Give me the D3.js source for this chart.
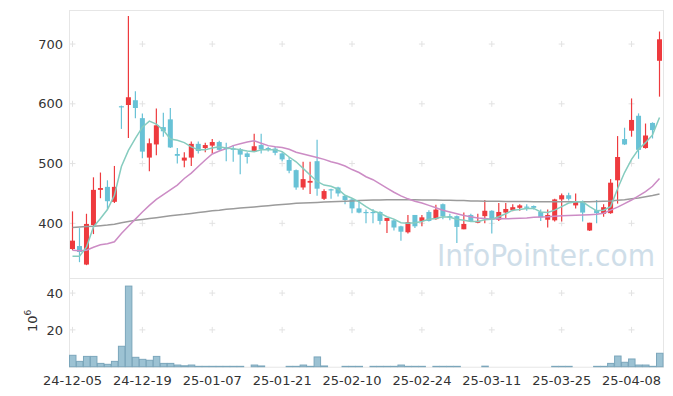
<!DOCTYPE html>
<html>
<head>
<meta charset="utf-8">
<script src="https://cdn.jsdelivr.net/npm/d3@7"></script>
<style>
    body { margin: 0; background: #fff; }
    text { font-family: "DejaVu Sans", sans-serif; }
</style>
</head>
<body>
<div id="chart"></div>
<script>
/*--------------------------------------*
 *---------------- Data ----------------*
 *--------------------------------------*/

const dates = [
    '24-12-05','24-12-06','24-12-09','24-12-10','24-12-11','24-12-12','24-12-13','24-12-16','24-12-17','24-12-18',
    '24-12-19','24-12-20','24-12-23','24-12-24','24-12-26','24-12-27','24-12-30','25-01-02','25-01-03','25-01-06',
    '25-01-07','25-01-08','25-01-09','25-01-10','25-01-13','25-01-14','25-01-15','25-01-16','25-01-17','25-01-20',
    '25-01-21','25-01-22','25-01-23','25-01-24','25-01-31','25-02-03','25-02-04','25-02-05','25-02-06','25-02-07',
    '25-02-10','25-02-11','25-02-12','25-02-13','25-02-14','25-02-17','25-02-18','25-02-19','25-02-20','25-02-21',
    '25-02-24','25-02-25','25-02-26','25-02-27','25-02-28','25-03-04','25-03-05','25-03-06','25-03-07','25-03-10',
    '25-03-11','25-03-12','25-03-13','25-03-14','25-03-17','25-03-18','25-03-19','25-03-20','25-03-21','25-03-24',
    '25-03-25','25-03-26','25-03-27','25-03-28','25-03-31','25-04-01','25-04-02','25-04-03','25-04-04','25-04-07',
    '25-04-08','25-04-09','25-04-10','25-04-11','25-04-14'
];

const openPrices = [
    357,362,331,397,456,461,436,596,598,606, 576,510,532,561,574,516,505,510,533,526,
    530,536,527,525,524,517,520,531,526,525, 517,506,489,460,468,504,441,457,460,446,
    440,425,419,419,419,404,405,395,385,414, 404,419,407,432,412,412,390,414,401,412,
    421,406,418,422,426,428,429,419,406,405, 440,447,430,437,388,422,416,417,472,541,
    555,580,526,568,672
];
const highPrices = [
    420,392,416,477,485,472,496,597,747,621, 584,542,592,585,593,526,519,537,537,535,
    541,538,535,531,526,519,550,550,528,528, 519,511,490,503,503,540,457,458,461,447,
    441,438,423,424,420,409,407,396,414,414, 414,422,431,433,416,413,418,416,416,439,
    422,434,434,432,432,432,430,423,423,441, 450,451,450,438,401,439,432,474,546,560,
    609,584,567,569,721
];
const lowPrices = [
    355,335,330,382,442,424,434,558,543,576, 509,487,514,545,526,500,494,496,517,519,
    517,522,504,503,482,500,520,517,520,514, 504,484,456,456,449,446,439,441,445,432,
    417,417,400,400,398,384,388,371,383,392, 395,403,406,407,405,367,390,403,400,400,
    383,404,408,420,421,421,423,404,393,403, 403,438,425,403,387,400,411,416,433,531,
    545,508,525,542,612
];
const closePrices = [
    371,352,399,456,459,437,461,595,611,593, 520,534,564,554,527,513,510,533,521,531,
    536,523,524,524,515,511,529,524,525,518, 507,488,460,474,471,458,454,456,450,439,
    425,418,418,418,404,409,393,386,402,395, 410,404,423,412,410,394,399,404,404,421,
    407,419,424,427,430,426,426,410,414,440, 447,441,437,418,401,417,427,468,511,532,
    573,523,547,556,708
];

// Volume in millions of shares
const volumes = [
    6.2,2.9,5.6,5.6,1.8,1.3,2.9,11.1,43.8,5.1, 4.0,3.5,5.6,1.8,1.8,0.9,0.5,0.9,0.2,0.2,
    0.2,0.2,0.2,0.2,0.2,0,0.9,0.4,0,0, 0,0.2,0.2,0.9,0.2,5.3,0.4,0,0,0.2,
    0.2,0.2,0,0.2,0.2,0.2,0.2,0.9,0.2,0.2, 0.2,0,0.2,0.2,0.2,0.2,0,0,0,0.3,
    0,0,0,0,0,0,0,0,0,0.2, 0.2,0.2,0,0,0,0.2,0.2,1.8,5.8,2.4,
    4.2,0.9,0.9,0.2,7.3
];

// Moving averages
const maShort = [
    345,345,360,394,408,423,447,495,522,542, 561,571,566,556,541,539,535,528,523,523,
    526,528,526,525,523,521,520,523,523,523, 520,511,503,492,481,470,464,462,457,447,
    442,436,428,421,417,411,407,401,400,401, 403,407,408,411,410,407,405,403,403,406,
    407,411,416,422,423,425,425,419,418,422, 428,434,436,436,428,421,422,428,458,485,
    507,524,535,548,577
];
const maMid = [
    355,354,355,360,364,366,369,383,395,407, 419,430,440,448,456,464,475,484,495,506,
    516,521,525,530,533,536,538,534,530,528, 527,524,519,516,513,510,507,503,500,496,
    490,485,478,473,466,459,452,446,441,437, 434,430,426,422,419,416,413,411,409,408,
    407,408,407.5,408,408.5,409,410,410.5,411,412, 412.5,413,413.5,414,414.5,415,417,422,427,433,
    439,446,453,462,475
];
const maLong = [
    393,394,394.5,395,396,397,398.5,401,403,405, 406.5,408,409.5,411,412.5,414,415,416.5,418,419.5,
    421,422,423.5,424.5,425.5,426.5,427.5,428.5,429.5,430.5, 431.5,432.5,433.5,434,434.5,435,435.5,436,436.5,437,
    437.5,438,438.5,439,439,439.5,439.5,439.5,439.5,439.5, 439,439,439,438.5,438.5,438,438,437.5,437.5,437,
    437,437,436.5,436.5,436.5,436.5,436,436,436,436, 436,436,436,436,436,436.5,437,437.5,438.5,439.5,
    441,442.5,444.5,446.5,449
];

const dateTicks = ['24-12-05','24-12-19','25-01-07','25-01-21','25-02-10','25-02-24','25-03-11','25-03-25','25-04-08'];
const priceTicks = [400, 500, 600, 700];
const volumeTicks = [20, 40];

/*--------------------------------------*
 *------ Pre-plot initialization -------*
 *--------------------------------------*/

function initDimensions() {
    const margin = { top: 10, left: 69 },
        width = 594,
        priceHeight = 268,
        volumeHeight = 88.7;
    return [ margin, width, priceHeight, volumeHeight ];
}

function initSVG() {
    return d3.select('#chart')
        .append('svg')
        .attr('width', 673)
        .attr('height', 396);
}

function initScales(width, priceHeight, volumeHeight) {
    const xScale = d3.scaleBand()
        .domain(dates)
        .range([0, width])
        .padding(0);
    const yPrice = d3.scaleLinear()
        .domain([308.5, 757])
        .range([priceHeight, 0]);
    const yVolume = d3.scaleLinear()
        .domain([0, 48.2])
        .range([volumeHeight, 0]);
    return [ xScale, yPrice, yVolume ];
}

// little "+" marks where the ticks cross
function drawCrosses(g, xScale, yScale, values) {
    const pts = [];
    dateTicks.forEach(d => values.forEach(v => pts.push([xScale(d) + xScale.bandwidth() / 2, yScale(v)])));
    g.selectAll('.cross')
        .data(pts)
        .join('path')
        .attr('d', p => `M${p[0] - 3},${p[1]}H${p[0] + 3}M${p[0]},${p[1] - 3}V${p[1] + 3}`)
        .attr('stroke', '#e2e2e2')
        .attr('stroke-width', 1);
}

/*--------------------------------------*
 *-------- Plot initialization ---------*
 *--------------------------------------*/

function drawChart() {
    const [ margin, width, priceHeight, volumeHeight ] = initDimensions();
    const svg = initSVG();
    const [ xScale, yPrice, yVolume ] = initScales(width, priceHeight, volumeHeight);
    const cx = d => xScale(d) + xScale.bandwidth() / 2;

    const price = svg.append('g')
        .attr('transform', 'translate(' + margin.left + ',' + margin.top + ')');
    const volume = svg.append('g')
        .attr('transform', 'translate(' + margin.left + ',' + (margin.top + priceHeight) + ')');

    // Watermark
    price.append('text')
        .attr('x', 368)
        .attr('y', 256)
        .attr('textLength', 218)
        .attr('lengthAdjust', 'spacingAndGlyphs')
        .attr('font-size', 31)
        .attr('fill', '#cfdee9')
        .text('InfoPointer.com');

    drawCrosses(price, xScale, yPrice, priceTicks);
    drawCrosses(volume, xScale, yVolume, volumeTicks);

    // Panel borders
    [[price, priceHeight], [volume, volumeHeight]].forEach(([g, h]) => {
        g.append('rect')
            .attr('x', 0.5).attr('y', 0.5)
            .attr('width', width).attr('height', h)
            .attr('fill', 'none')
            .attr('stroke', '#e6e6e6');
    });

    // Candles
    const candles = dates.map((d, i) => ({
        date: d, open: openPrices[i], high: highPrices[i], low: lowPrices[i], close: closePrices[i]
    }));
    const colorOf = d => d.close >= d.open ? '#ee3a3e' : '#68c2d6';

    price.selectAll('.wick')
        .data(candles)
        .join('line')
        .attr('x1', d => cx(d.date)).attr('x2', d => cx(d.date))
        .attr('y1', d => yPrice(d.high)).attr('y2', d => yPrice(d.low))
        .attr('stroke', colorOf)
        .attr('stroke-width', 1.2);

    price.selectAll('.body')
        .data(candles)
        .join('rect')
        .attr('x', d => cx(d.date) - 2.5)
        .attr('width', 5)
        .attr('y', d => yPrice(Math.max(d.open, d.close)))
        .attr('height', d => Math.max(1.2, Math.abs(yPrice(d.open) - yPrice(d.close))))
        .attr('fill', colorOf);

    // Moving averages
    const lineGen = d3.line()
        .x((v, i) => cx(dates[i]))
        .y(v => yPrice(v));
    [[maLong, '#9b9b9b'], [maMid, '#cc8cc5'], [maShort, '#86ccbf']].forEach(([vals, color]) => {
        price.append('path')
            .attr('d', lineGen(vals))
            .attr('fill', 'none')
            .attr('stroke', color)
            .attr('stroke-width', 1.5);
    });

    // Volume bars
    volume.selectAll('.vol')
        .data(dates)
        .join('rect')
        .attr('x', d => xScale(d) + 0.5)
        .attr('width', xScale.bandwidth() - 0.5)
        .attr('y', (d, i) => yVolume(volumes[i]))
        .attr('height', (d, i) => volumeHeight - yVolume(volumes[i]))
        .attr('fill', '#9cc2d3')
        .attr('stroke', '#7ba6bb')
        .attr('stroke-width', 1);

    // Axes
    const priceAxis = price.append('g')
        .call(d3.axisLeft(yPrice).tickValues(priceTicks).tickSize(0).tickPadding(6));
    const volAxis = volume.append('g')
        .call(d3.axisLeft(yVolume).tickValues(volumeTicks).tickSize(0).tickPadding(6));
    const dateAxis = volume.append('g')
        .attr('transform', 'translate(0,' + volumeHeight + ')')
        .call(d3.axisBottom(xScale).tickValues(dateTicks).tickSize(0).tickPadding(9));

    [priceAxis, volAxis, dateAxis].forEach(a => {
        a.select('.domain').remove();
        a.selectAll('text')
            .attr('font-family', '"DejaVu Sans", sans-serif')
            .attr('font-size', 13)
            .attr('fill', '#333');
    });

    // Volume unit label
    const unit = svg.append('text')
        .attr('transform', 'translate(37,332) rotate(-90)')
        .attr('font-size', 13)
        .attr('fill', '#333');
    unit.append('tspan').text('10');
    unit.append('tspan')
        .attr('font-size', 9)
        .attr('dy', -6)
        .text('6');
}

drawChart();
</script>
</body>
</html>
